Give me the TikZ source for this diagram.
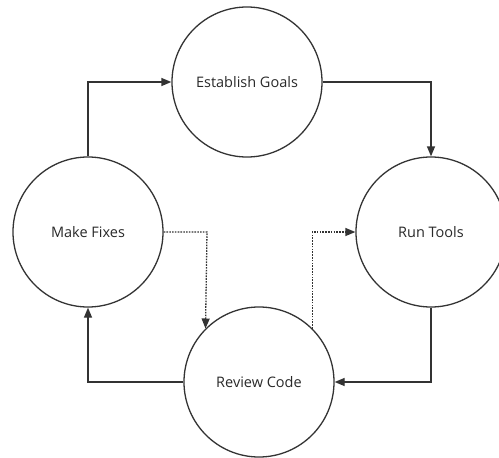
\documentclass[tikz,border=0pt]{standalone}
\usepackage{fontspec}
\setmainfont{Open Sans}
\usetikzlibrary{arrows.meta}
\definecolor{ink}{HTML}{333333}
\begin{document}
\begin{tikzpicture}[x=1pt,y=-1pt,
  stage/.style={circle,draw=ink,line width=1.3pt,minimum size=150pt,inner sep=0pt,
    font=\fontsize{14.5}{17}\selectfont,text=ink!80!black},
  flow/.style={draw=ink,line width=1.3pt,-{Triangle[length=10pt,width=8pt]}},
  aside/.style={flow,dash pattern=on 1.6pt off 1.2pt}]
\useasboundingbox (0,0) rectangle (499,458);
\node[stage] (goals)  at (247,82)  {Establish Goals};
\node[stage] (fixes)  at (88,232)  {Make Fixes};
\node[stage] (tools)  at (431,232) {Run Tools};
\node[stage] (review) at (259,382) {Review Code};
% main cycle
\draw[flow] (fixes.north) |- (goals.west);
\draw[flow] (goals.east) -| (tools.north);
\draw[flow] (tools.south) |- (review.east);
\draw[flow] (review.west) -| (fixes.south);
% shortcuts
\coordinate (fxturn) at (207,232);
\draw[aside] (fixes.east) -- (fxturn) -- (review.135);
\draw[aside] (review.45) |- (tools.west);
\end{tikzpicture}
\end{document}
